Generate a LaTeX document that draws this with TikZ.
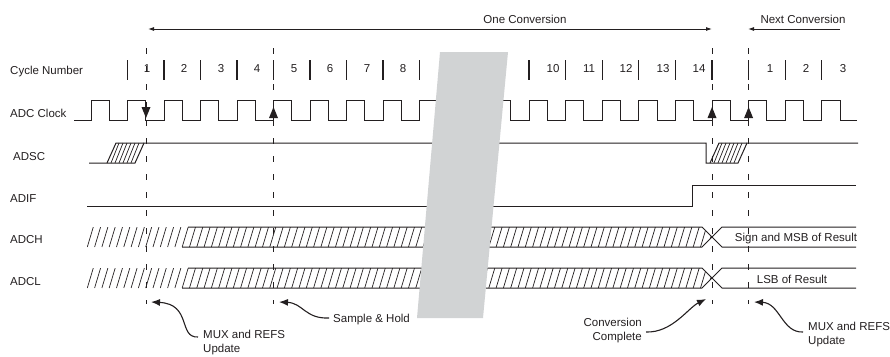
\documentclass[tikz,border=0pt]{standalone}
\usepackage{fontspec}
\setmainfont{Liberation Sans}
\usetikzlibrary{arrows.meta}
\definecolor{ink}{RGB}{35,31,32}
\definecolor{band}{RGB}{209,211,212}
\tikzset{
  sig/.style={ink, line width=1pt},
  hatch/.style={ink, line width=0.7pt},
  tick/.style={ink, line width=1.1pt},
  guide/.style={ink, line width=0.9pt, dash pattern=on 6pt off 12pt},
  lbl/.style={inner sep=0pt, text=ink, font=\fontsize{11.5}{13.5}\selectfont},
  note/.style={ink, line width=1.1pt, -{Latex[length=9pt,width=7pt]}},
  span/.style={ink, line width=0.9pt}
}
\begin{document}
\begin{tikzpicture}[x=1pt,y=-1pt]
    \useasboundingbox (0,0) rectangle (890,356);
    % signal names
    \node [lbl, anchor=base west] (cyc)  at (10,74)  {Cycle Number};
    \node [lbl, anchor=base west] (clk)  at (10,117) {ADC Clock};
    \node [lbl, anchor=base west] (adsc) at (13,160) {ADSC};
    \node [lbl, anchor=base west] (adif) at (10,202) {ADIF};
    \node [lbl, anchor=base west] (adch) at (10,243) {ADCH};
    \node [lbl, anchor=base west] (adcl) at (10,285) {ADCL};
    % conversion spans
    \coordinate (convA) at (148,29);
    \coordinate (convB) at (712,29);
    \coordinate (nextA) at (748,29);
    \coordinate (nextB) at (840,29);
    \draw [span, {Latex[length=6pt,width=4pt]}-{Latex[length=6pt,width=4pt]}] (convA) -- (convB);
    \draw [span, -{Latex[length=6pt,width=4pt]}] (nextB) -- (nextA);
    \node [lbl, anchor=base] (one)  at (525,23) {One Conversion};
    \node [lbl, anchor=base] (next) at (803,23) {Next Conversion};
    % cycle ticks and numbers
    \foreach \t in {127.5,164,200.5,273.5,310,346.5,383,419.5,529,565.6,602.2,638.8,675.4,712,748.6,785.2,821.8}
        \draw [tick] (\t,60) -- (\t,80);
    \draw [ink, line width=2pt] (237,60) -- (237,80);
    \foreach \x/\n in {147/1,184/2,221/3,257/4,294/5,330/6,367/7,403/8,553/10,589/11,626/12,663/13,699/14,770/1,806/2,843/3}
        \node [lbl, anchor=base] (c\n) at (\x,72) {\n};
    % guide lines
    \foreach \g in {146,273.5,712,748.6}
        \draw [guide] (\g,48) -- (\g,304);
    % ADC clock
    \draw [sig] (74,120) foreach \k in {0,...,10} { -- ({91+36.5*\k},120) -- ++(0,-20) -- ++(18.25,0) -- ++(0,20) } -- ++(6,0);
    \draw [sig] (484,120) foreach \k in {0,...,9} { -- ({492.4+36.6*\k},120) -- ++(0,-20) -- ++(18.3,0) -- ++(0,20) } -- (857,120);
    \fill [ink] (146,118) -- ++(-4.5,-11) -- ++(9,0) -- cycle;
    \foreach \a in {273.5,712,748.6}
        \fill [ink] (\a,107) -- ++(-4.5,11) -- ++(9,0) -- cycle;
    % ADSC
    \draw [sig] (89,163) -- (135,163) -- (144,143) -- (706,143) -- (706,163) -- (738,163) -- (747,143) -- (858,143);
    \draw [sig] (107,163) -- (116,143) -- (144,143);
    \draw [sig] (710,163) -- (719,143) -- (747,143);
    \foreach \k in {1,...,6} {
        \draw [hatch] ({107+4*\k},163) -- ++(8,-20);
        \draw [hatch] ({710+4*\k},163) -- ++(8,-20);
    }
    % ADIF
    \draw [sig] (87,206) -- (692,206) -- (692,185) -- (856,185);
    % ADCH
    \begin{scope}
        \clip (87,227) -- (702,227) -- (712,237) -- (702,247) -- (87,247) -- cycle;
        \foreach \x in {80,87.3,...,712} \draw [hatch] (\x,247) -- ++(6,-20);
    \end{scope}
    \draw [sig] (188,227) -- (702,227) -- (722,247) -- (856,247);
    \draw [sig] (182,247) -- (702,247) -- (722,227) -- (856,227);
    \node [lbl, anchor=base] (msb) at (796,241) {Sign and MSB of Result};
    % ADCL
    \begin{scope}
        \clip (87,268) -- (702,268) -- (712,278) -- (702,288) -- (87,288) -- cycle;
        \foreach \x in {80,87.3,...,712} \draw [hatch] (\x,288) -- ++(6,-20);
    \end{scope}
    \draw [sig] (188,268) -- (702,268) -- (722,288) -- (856,288);
    \draw [sig] (182,288) -- (702,288) -- (722,268) -- (856,268);
    \node [lbl, anchor=base] (lsb) at (792,283) {LSB of Result};
    % break band
    \fill [band] (440,52) -- (508,52) -- (483,318) -- (417,318) -- cycle;
    % notes
    \node [lbl, anchor=north west, align=left] (muxA) at (203,330) {MUX and REFS\\Update};
    \node [lbl, anchor=base west] (hold) at (333,322) {Sample \& Hold};
    \node [lbl, anchor=north east, align=right] (conv) at (642,318) {Conversion\\Complete};
    \node [lbl, anchor=north west, align=left] (muxB) at (808,322) {MUX and REFS\\Update};
    \coordinate (tipA) at (151,302);
    \coordinate (tipB) at (279,302);
    \coordinate (tipC) at (706,299);
    \coordinate (tipD) at (754,302);
    \draw [note] ([shift={(-5,7)}]muxA.north west) .. controls (178,338) and (192,304) .. (tipA);
    \draw [note] ([shift={(-4,-4)}]hold.base west) .. controls (305,319) and (303,303) .. (tipB);
    \draw [note] ([shift={(4,14)}]conv.north east) .. controls (672,333) and (688,308) .. (tipC);
    \draw [note] ([shift={(-5,10)}]muxB.north west) .. controls (782,333) and (780,303) .. (tipD);
\end{tikzpicture}
\end{document}
